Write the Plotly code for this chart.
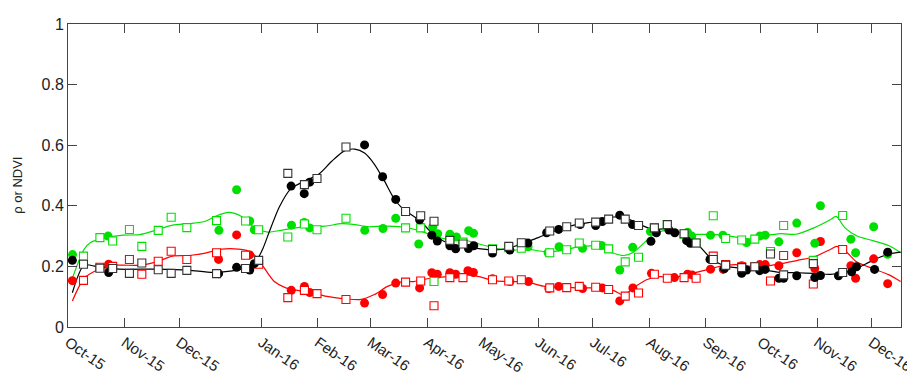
import pandas as pd
import plotly.graph_objects as go

START = "2015-10-01"

# ---------------- data (days since 2015-10-01, value) ----------------
black_circ_day = [2.4, 22.3, 82.6, 92.5, 99.7, 102.2, 122.4, 129.6, 132.6, 162.7, 172.6, 179.8,
                  192.9, 199.6, 202.6, 209.5, 212.7, 219.7, 222.6, 232.9, 242.4, 252.3, 262.6, 269.2,
                  281.0, 289.5, 293.1, 302.7, 309.7, 319.8, 322.8, 329.7, 332.9, 339.4, 341.4, 352.2,
                  360.1, 369.6, 372.3, 379.5, 382.5, 390.0, 392.6, 399.8, 409.7, 412.8, 422.7, 429.9,
                  432.6, 442.5, 449.7]
black_circ_val = [0.22, 0.18, 0.176, 0.197, 0.188, 0.209, 0.465, 0.44, 0.478, 0.601, 0.496, 0.421,
                  0.354, 0.303, 0.284, 0.268, 0.258, 0.259, 0.268, 0.244, 0.254, 0.277, 0.311, 0.322,
                  0.338, 0.335, 0.348, 0.369, 0.338, 0.283, 0.311, 0.32, 0.311, 0.285, 0.276, 0.223,
                  0.193, 0.177, 0.188, 0.186, 0.19, 0.161, 0.161, 0.169, 0.163, 0.17, 0.169, 0.182,
                  0.199, 0.19, 0.247]

green_circ_day = [2.5, 22.0, 82.8, 92.5, 99.7, 102.2, 122.6, 129.6, 132.6, 162.8, 172.8, 179.8,
                  192.4, 200.1, 202.8, 209.5, 213.1, 219.8, 222.5, 252.4, 263.4, 269.4, 282.3, 292.7,
                  302.7, 309.8, 319.5, 339.9, 342.2, 352.5, 359.3, 372.3, 379.5, 382.5, 390.0, 399.8,
                  409.7, 412.8, 429.5, 432.1, 442.0, 449.7]
green_circ_val = [0.239, 0.30, 0.319, 0.453, 0.35, 0.321, 0.336, 0.345, 0.327, 0.319, 0.325, 0.359,
                  0.274, 0.33, 0.308, 0.306, 0.297, 0.318, 0.309, 0.265, 0.245, 0.265, 0.26, 0.269,
                  0.188, 0.263, 0.315, 0.313, 0.30, 0.303, 0.303, 0.279, 0.30, 0.303, 0.281, 0.343,
                  0.276, 0.40, 0.29, 0.245, 0.331, 0.24]

red_circ_day = [2.4, 22.3, 82.6, 92.5, 99.7, 122.5, 129.7, 132.6, 162.7, 172.6, 179.8,
                192.9, 199.6, 202.6, 209.5, 212.7, 219.4, 222.4, 232.9, 242.4, 252.6, 263.8, 269.2,
                282.3, 293.1, 302.7, 309.9, 320.1, 332.7, 339.9, 342.4, 352.5, 359.5, 369.6, 379.5,
                382.5, 390.0, 399.8, 409.7, 412.8, 429.5, 432.1, 442.0, 449.7]
red_circ_val = [0.153, 0.207, 0.223, 0.304, 0.238, 0.121, 0.134, 0.114, 0.079, 0.107, 0.145,
                0.129, 0.179, 0.174, 0.179, 0.174, 0.186, 0.18, 0.159, 0.15, 0.15, 0.127, 0.134,
                0.127, 0.129, 0.086, 0.129, 0.177, 0.163, 0.174, 0.172, 0.191, 0.19, 0.202, 0.206,
                0.206, 0.202, 0.245, 0.193, 0.282, 0.202, 0.161, 0.225, 0.143]

sq_day = [8.5, 17.5, 24.5, 33.7, 40.5, 49.5, 56.6, 65.2, 81.5, 97.4, 104.6, 120.6, 129.7, 136.6,
          152.5, 185.2, 193.5, 200.8, 209.5, 216.7, 232.9, 241.8, 248.7, 264.3, 273.6, 280.5,
          289.5, 296.6, 305.7, 313.0, 321.7, 328.8, 338.0, 344.6, 354.0, 360.8, 369.6, 376.8,
          385.4, 392.6, 408.9, 425.0]
black_sq_val = [0.207, 0.194, 0.193, 0.177, 0.211, 0.189, 0.177, 0.187, 0.176, 0.193, 0.22, 0.507,
                0.47, 0.49, 0.594, 0.381, 0.367, 0.349, 0.286, 0.274, 0.256, 0.266, 0.278, 0.317,
                0.331, 0.343, 0.346, 0.356, 0.356, 0.335, 0.327, 0.338, 0.308, 0.277, 0.223, 0.204,
                0.196, 0.199, 0.241, 0.172, 0.209, 0.18]
green_sq_val = [0.234, 0.295, 0.284, 0.322, 0.266, 0.319, 0.362, 0.328, 0.351, 0.35, 0.321, 0.297,
                0.34, 0.321, 0.359, 0.327, 0.327, 0.15, 0.288, 0.28, 0.258, 0.262, 0.26, 0.245,
                0.255, 0.277, 0.27, 0.258, 0.215, 0.23, 0.327, 0.338, 0.306, 0.277, 0.367, 0.292,
                0.287, 0.29, 0.249, 0.335, 0.22, 0.368]
red_sq_val = [0.154, 0.197, 0.2, 0.223, 0.174, 0.217, 0.25, 0.223, 0.245, 0.237, 0.207, 0.097,
              0.121, 0.11, 0.091, 0.148, 0.152, 0.07, 0.163, 0.163, 0.156, 0.152, 0.156, 0.129,
              0.13, 0.134, 0.131, 0.124, 0.102, 0.112, 0.174, 0.161, 0.163, 0.161, 0.234, 0.206,
              0.199, 0.199, 0.152, 0.236, 0.142, 0.256]

black_fit_day = [2.4, 8.9, 16, 28, 48, 66, 80, 97, 100.5, 104, 107, 110.5, 116, 122.2, 130.3, 137.5,
                 144.7, 151.9, 157.3, 162.7, 168.1, 173.5, 178.9, 183.4, 193.3, 199.6, 205.9, 213.1,
                 222.1, 232.9, 241.8, 249.1, 258, 265.3, 274.2, 281.5, 290.4, 299.4, 305.7, 313.8,
                 321, 328.2, 335.4, 344.4, 353.4, 362.4, 373.2, 382.2, 391.2, 400.2, 409.2, 418.2,
                 425.4, 432.6, 441.5, 450.5, 456.8]
black_fit_val = [0.113, 0.204, 0.199, 0.191, 0.191, 0.188, 0.18, 0.193, 0.205, 0.225, 0.26, 0.315,
                 0.397, 0.456, 0.483, 0.504, 0.547, 0.582, 0.587, 0.574, 0.537, 0.483, 0.424, 0.392,
                 0.349, 0.311, 0.284, 0.27, 0.261, 0.254, 0.26, 0.276, 0.295, 0.313, 0.331, 0.341,
                 0.349, 0.363, 0.36, 0.338, 0.322, 0.324, 0.311, 0.279, 0.223, 0.199, 0.193, 0.188,
                 0.18, 0.179, 0.177, 0.174, 0.179, 0.193, 0.22, 0.241, 0.247]

green_fit_day = [2.4, 8.9, 12.4, 21.4, 30.4, 39.4, 48.4, 57.4, 66.4, 75.4, 80.8, 88, 95.2, 102.4,
                 109.6, 117.7, 124.9, 132.1, 141.1, 150.1, 157.3, 164.5, 173.5, 183.4, 193.3, 200.5,
                 207.7, 216.7, 225.6, 234.6, 243.7, 252.6, 261.6, 270.7, 281.5, 290.4, 297.6, 304.8,
                 310.2, 317.4, 322.8, 330, 337.2, 344.4, 353.4, 362.4, 373.2, 382.2, 391.2, 399.3,
                 409.2, 418.2, 421.4, 426.3, 432.6, 441.5, 450.5, 456.8]
green_fit_val = [0.161, 0.257, 0.279, 0.295, 0.303, 0.305, 0.32, 0.336, 0.341, 0.349, 0.365, 0.378,
                 0.365, 0.327, 0.313, 0.32, 0.327, 0.331, 0.333, 0.341, 0.338, 0.331, 0.333, 0.33,
                 0.317, 0.301, 0.29, 0.288, 0.274, 0.26, 0.254, 0.256, 0.249, 0.252, 0.266, 0.266,
                 0.247, 0.236, 0.247, 0.285, 0.311, 0.32, 0.311, 0.306, 0.306, 0.301, 0.29, 0.301,
                 0.308, 0.306, 0.327, 0.354, 0.365, 0.327, 0.301, 0.285, 0.268, 0.245]

red_fit_day = [2.4, 8.9, 16, 23.2, 30.4, 39.4, 48.4, 57.4, 66.4, 75.4, 84.4, 93.4, 100.6, 106,
               113.2, 119.5, 126.7, 133.9, 142.9, 151.9, 160.9, 168.1, 175.3, 183.4, 189.7, 198.7,
               207.7, 218.5, 225.6, 234.6, 243.7, 252.6, 261.6, 274.2, 281.5, 290.4, 299.4, 304.8,
               310.2, 317.4, 324.6, 331.8, 339, 348, 357, 366, 373.2, 382.2, 391.2, 400.2, 409.2,
               418.2, 421.8, 427.2, 432.6, 441.5, 450.5, 456.8]
red_fit_val = [0.086, 0.161, 0.188, 0.204, 0.204, 0.204, 0.215, 0.234, 0.236, 0.244, 0.257, 0.257,
               0.247, 0.209, 0.15, 0.129, 0.12, 0.113, 0.1, 0.093, 0.091, 0.107, 0.134, 0.15, 0.15,
               0.161, 0.166, 0.172, 0.166, 0.152, 0.15, 0.147, 0.134, 0.131, 0.129, 0.129, 0.12,
               0.105, 0.129, 0.156, 0.166, 0.163, 0.172, 0.185, 0.199, 0.206, 0.201, 0.201, 0.209,
               0.22, 0.231, 0.256, 0.266, 0.247, 0.215, 0.193, 0.172, 0.15]

tick_dates = ["2015-10-01", "2015-11-01", "2015-12-01", "2016-01-15", "2016-02-15", "2016-03-15",
              "2016-04-15", "2016-05-15", "2016-06-15", "2016-07-15", "2016-08-15", "2016-09-15",
              "2016-10-15", "2016-11-15", "2016-12-15"]
tick_labels = ["Oct-15", "Nov-15", "Dec-15", "Jan-16", "Feb-16", "Mar-16", "Apr-16", "May-16",
               "Jun-16", "Jul-16", "Aug-16", "Sep-16", "Oct-16", "Nov-16", "Dec-16"]
y_ticks = [0, 0.2, 0.4, 0.6, 0.8, 1]
y_tick_labels = ["0", "0.2", "0.4", "0.6", "0.8", "1"]

BLACK = "#000000"
GREEN = "#00e000"
RED = "#ff0000"
FONT = "Liberation Sans, Arial, sans-serif"


def to_dates(days):
    return pd.Timestamp(START) + pd.to_timedelta(days, unit="D")


fig = go.Figure()

for d, v, c in [(red_fit_day, red_fit_val, RED), (green_fit_day, green_fit_val, GREEN),
                (black_fit_day, black_fit_val, BLACK)]:
    fig.add_trace(go.Scatter(x=to_dates(d), y=v, mode="lines",
                             line=dict(color=c, width=1.2, shape="spline", smoothing=0.8),
                             showlegend=False, hoverinfo="skip"))

for d, v, c in [(red_circ_day, red_circ_val, RED), (green_circ_day, green_circ_val, GREEN)]:
    fig.add_trace(go.Scatter(x=to_dates(d), y=v, mode="markers",
                             marker=dict(symbol="circle", size=9, color=c, line=dict(width=0)),
                             showlegend=False))
for v, c in [(red_sq_val, RED), (green_sq_val, GREEN)]:
    fig.add_trace(go.Scatter(x=to_dates(sq_day), y=v, mode="markers",
                             marker=dict(symbol="square", size=8, color="white",
                                         line=dict(width=1.1, color=c)),
                             showlegend=False))
fig.add_trace(go.Scatter(x=to_dates(black_circ_day), y=black_circ_val, mode="markers",
                         marker=dict(symbol="circle", size=9, color=BLACK, line=dict(width=0)),
                         showlegend=False))
fig.add_trace(go.Scatter(x=to_dates(sq_day), y=black_sq_val, mode="markers",
                         marker=dict(symbol="square", size=8, color="white",
                                     line=dict(width=1.1, color="#333333")),
                         showlegend=False))

x_font = dict(family=FONT, size=15, color="#222222")
y_font = dict(family=FONT, size=16, color="#222222")

fig.update_layout(
    width=915, height=376,
    margin=dict(l=60, r=8, t=16, b=49),
    paper_bgcolor="white", plot_bgcolor="white",
    xaxis=dict(type="date", range=["2015-10-01", "2016-12-31"],
               tickmode="array", tickvals=tick_dates, ticktext=tick_labels,
               tickangle=35, ticks="inside", ticklen=9, tickcolor="#444444",
               showline=True, linecolor="#444444", linewidth=1, mirror="ticks",
               ticklabeloverflow="allow",
               showgrid=False, zeroline=False, tickfont=x_font),
    yaxis=dict(range=[0, 1], tickmode="array", tickvals=y_ticks, ticktext=y_tick_labels,
               ticks="inside", ticklen=9, tickcolor="#444444",
               showline=True, linecolor="#444444", linewidth=1, mirror="ticks",
               showgrid=False, zeroline=False, tickfont=y_font),
    font=x_font,
    annotations=[dict(text="ρ or NDVI", xref="paper", yref="paper", x=0, y=0.466,
                      xanchor="center", yanchor="middle",
                      xshift=-50, textangle=-90, showarrow=False,
                      font=dict(family=FONT, size=13, color="#222222"))],
)

fig.write_html("out.html")
